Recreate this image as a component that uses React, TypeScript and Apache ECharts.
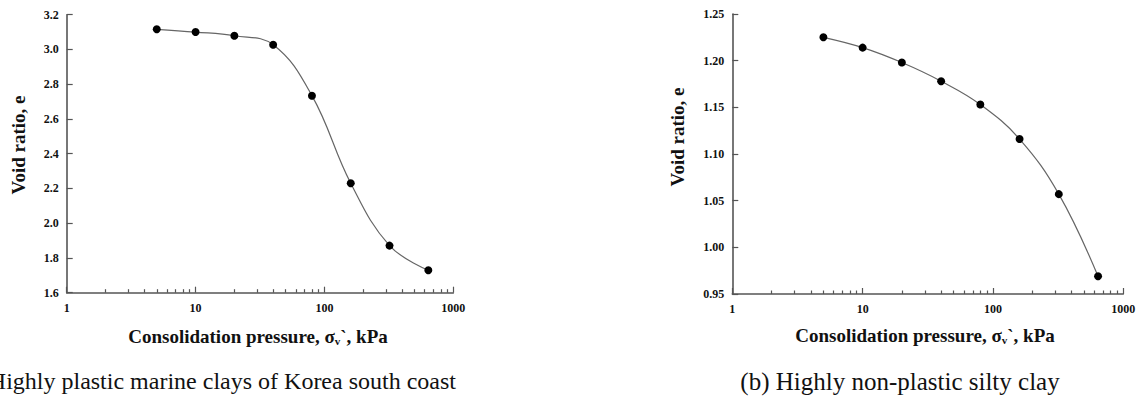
import React, { useEffect, useRef } from "react";
import * as echarts from "echarts";

const pressures = [5, 10, 20, 40, 80, 160, 320, 640];
const voidRatioA = [3.116, 3.1, 3.079, 3.027, 2.734, 2.23, 1.871, 1.729];
const voidRatioB = [1.225, 1.214, 1.198, 1.178, 1.153, 1.116, 1.057, 0.969];
const minorTickValues = [2, 3, 4, 5, 6, 7, 8, 9, 20, 30, 40, 50, 60, 70, 80, 90, 200, 300, 400, 500, 600, 700, 800, 900];
const xTitle = "Consolidation pressure, σ{sub|v}`, kPa";
const yTitle = "Void ratio, e";
const captionA = "(a) Highly plastic marine clays of Korea south coast";
const captionB = "(b) Highly non-plastic silty clay";

const SERIF = "'Liberation Serif', 'Times New Roman', serif";
const AXIS_COLOR = "#555";

export default function App() {
  const ref = useRef<HTMLDivElement>(null);
  useEffect(() => {
    if (!ref.current) return;
    const chart = echarts.init(ref.current, undefined, { renderer: "svg" });
    const labelStyle = { fontFamily: SERIF, fontWeight: "bold" as const, fontSize: 12, color: "#111" };
    const grids = [
      { left: 66.7, top: 14.7, width: 386.6, height: 278 },
      { left: 732.3, top: 14, width: 391, height: 280 },
    ];
    const mainX = (gi: number) => ({
      type: "log",
      logBase: 10,
      gridIndex: gi,
      min: 1,
      max: 1000,
      position: "bottom",
      axisLine: { show: true, lineStyle: { color: AXIS_COLOR, width: 1.6 } },
      axisTick: { show: true, inside: true, length: 6, lineStyle: { color: AXIS_COLOR, width: 1.2 } },
      axisLabel: { ...labelStyle, margin: 9, formatter: (v: number) => String(Math.round(v)) },
      splitLine: { show: false },
      minorTick: { show: false },
    });
    const minorX = (gi: number) => ({
      type: "value",
      gridIndex: gi,
      min: 0,
      max: 3,
      position: "bottom",
      axisLine: { show: false },
      axisTick: {
        show: true,
        inside: true,
        length: 3.5,
        customValues: minorTickValues.map((v) => Math.log10(v)),
        lineStyle: { color: AXIS_COLOR, width: 1.2 },
      },
      axisLabel: { show: false },
      splitLine: { show: false },
    });
    const yAx = (gi: number, min: number, max: number, interval: number, dec: number) => ({
      type: "value",
      gridIndex: gi,
      min,
      max,
      interval,
      axisLine: { show: true, lineStyle: { color: AXIS_COLOR, width: 1.6 } },
      axisTick: { show: true, inside: true, length: 6, lineStyle: { color: AXIS_COLOR, width: 1.2 } },
      axisLabel: { ...labelStyle, margin: 8, formatter: (v: number) => v.toFixed(dec) },
      splitLine: { show: false },
    });
    const series = (gi: number, data: number[]) => ({
      type: "line",
      xAxisIndex: gi * 2,
      yAxisIndex: gi,
      data: pressures.map((p, i) => [p, data[i]]),
      smooth: 0.4,
      symbol: "circle",
      symbolSize: 8,
      itemStyle: { color: "#000" },
      lineStyle: { color: "#666", width: 1.2 },
    });
    const titleText = (x: number, y: number) => ({
      type: "text",
      x,
      y,
      style: {
        text: xTitle,
        fontFamily: SERIF,
        fontWeight: "bold",
        fontSize: 19,
        fill: "#111",
        align: "center",
        verticalAlign: "middle",
        rich: {
          sub: { fontFamily: SERIF, fontWeight: "bold", fontSize: 11, fill: "#111", padding: [9, 0, 0, 0] },
        },
      },
    });
    const yText = (x: number, y: number) => ({
      type: "text",
      x,
      y,
      rotation: Math.PI / 2,
      style: {
        text: yTitle,
        fontFamily: SERIF,
        fontWeight: "bold",
        fontSize: 19,
        fill: "#111",
        align: "center",
        verticalAlign: "middle",
      },
    });
    chart.setOption({
      animation: false,
      backgroundColor: "#fff",
      grid: grids,
      xAxis: [mainX(0), minorX(0), mainX(1), minorX(1)],
      yAxis: [yAx(0, 1.6, 3.2, 0.2, 1), yAx(1, 0.95, 1.25, 0.05, 2)],
      series: [series(0, voidRatioA), series(1, voidRatioB)],
      graphic: [
        titleText(258, 336),
        titleText(925, 335),
        yText(18, 145),
        yText(677, 137),
        {
          type: "text",
          x: 456,
          y: 381,
          style: { text: captionA, fontFamily: SERIF, fontSize: 24, fill: "#111", align: "right", verticalAlign: "middle" },
        },
        {
          type: "text",
          x: 900,
          y: 381,
          style: { text: captionB, fontFamily: SERIF, fontSize: 25, fill: "#111", align: "center", verticalAlign: "middle" },
        },
      ],
    });
    return () => chart.dispose();
  }, []);
  return <div ref={ref} style={{ position: "absolute", left: 0, top: 0, width: 1141, height: 397 }} />;
}
